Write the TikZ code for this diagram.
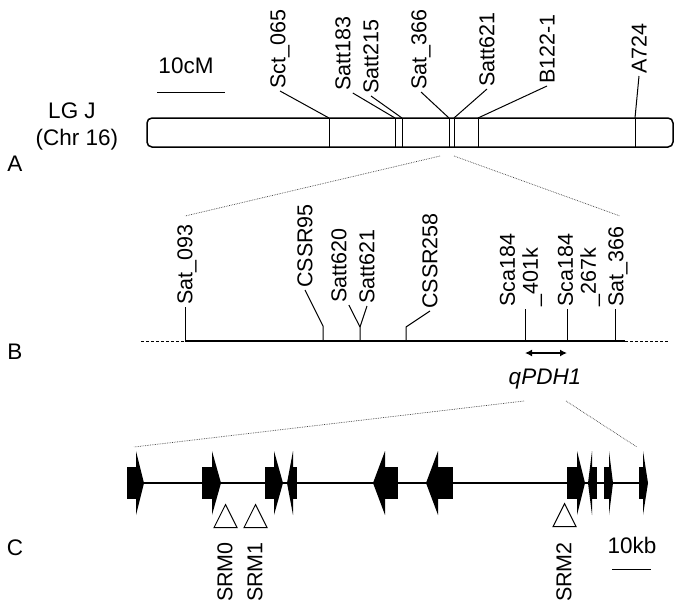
\documentclass[tikz,border=0pt]{standalone}
\usepackage{fontspec}
\setmainfont{Liberation Sans}
\usetikzlibrary{arrows.meta,positioning,shapes.geometric}
\tikzstyle{mk}=[rotate=90, anchor=west, inner sep=2pt, align=left, font=\fontsize{21.5}{23}\selectfont]
\tikzstyle{lbl}=[inner sep=0pt, font=\fontsize{22.5}{26}\selectfont]
\tikzstyle{l1}=[line width=1]
\tikzstyle{l2}=[line width=1.5]
\tikzstyle{zoomln}=[densely dotted, line width=0.7, color=black!75]
\tikzstyle{srm}=[isosceles triangle, shape border rotate=90, isosceles triangle stretches, draw, line width=1, inner sep=0pt, minimum width=23, minimum height=23]
% gene boxes: tail, base, tip (forward) / tip, base, tail (reverse)
\newcommand{\fgene}[3]{\fill (#1,467) rectangle (#2,499); \fill (#2,451) -- (#3,483) -- (#2,515) -- cycle;}
\newcommand{\rgene}[3]{\fill (#2,467) rectangle (#3,499); \fill (#2,451) -- (#1,483) -- (#2,515) -- cycle;}

\begin{document}
\begin{tikzpicture}[x=1pt, y=-1pt]
    \useasboundingbox (0,0) rectangle (682,614);

    % (A) linkage group
    \node (lg) [lbl] at (72,111) {LG J};
    \node (chr) [lbl] at (77,140) {(Chr 16)};
    \node (pa) [lbl] at (15,164) {A};
    \node (cm) [lbl] at (186,66) {10cM};
    \draw[l1] (157,92) -- (225,92);
    \draw[l2, rounded corners=5] (147,118) rectangle (673,147);
    \foreach \lx/\ly/\bx/\an/\txt [count=\i] in {280/91/329/west/Sct\_065, 343/93/395/south west/Satt183,
        371/96/402/west/Satt215, 421/92/449/west/Sat\_366, 487/89/454/west/Satt621,
        547/86/478/west/B122-1, 639/76/635/west/A724}{
        \coordinate (a\i) at (\bx,118);
        \draw[l1] (a\i) -- (\bx,147);
        \node (la\i) [mk] at (\lx,\ly) {\txt};
        \draw[l1] (la\i.\an) -- (a\i);
    }

    % zoom A -> B
    \coordinate (z1) at (440,156);
    \coordinate (z2) at (454,156);
    \coordinate (z3) at (185,216);
    \coordinate (z4) at (620,216);
    \draw[zoomln] (z1) -- (z3) (z2) -- (z4);

    % (B) fine map
    \node (pb) [lbl] at (15,352) {B};
    \coordinate (b0) at (141,341);
    \coordinate (b1) at (185,341);
    \coordinate (b2) at (323,341);
    \coordinate (b3) at (360,341);
    \coordinate (b4) at (406,341);
    \coordinate (b5) at (525,341);
    \coordinate (b6) at (567,341);
    \coordinate (b7) at (615,341);
    \coordinate (b8) at (668,341);
    \draw[l2] (b1) -- (b7) -- ++(10,0);
    \draw[l1, densely dashed] (b0) -- (b1);
    \draw[l1, densely dashed] (625,341) -- (b8);

    \node (lb1) [mk] at (187,307) {Sat\_093};
    \node (lb2) [mk] at (305,290) {CSSR95};
    \node (lb3) [mk] at (339,305) {Satt620};
    \node (lb4) [mk] at (367,306) {Satt621};
    \node (lb5) [mk] at (430,311) {CSSR258};
    \node (lb6) [mk] at (521,309) {Sca184\\\_401k};
    \node (lb7) [mk] at (579,309) {Sca184\\\_267k};
    \node (lb8) [mk] at (618,309) {Sat\_366};
    \draw[l1] (b1) -- (b1 |- lb1.west);
    \draw[l1] (b2) -- ++(0,-15) -- (lb2.west);
    \draw[l1] (b3) -- ++(0,-14) coordinate (j3) -- (lb3.south west);
    \draw[l1] (j3) -- (lb4.west);
    \draw[l1] (b4) -- ++(0,-14) -- (lb5.west);
    \draw[l1] (b5) -- (b5 |- lb6.west);
    \draw[l1] (b6) -- (b6 |- lb7.west);
    \draw[l1] (b7) -- (b7 |- lb8.west);

    \draw[l2, {Latex[length=7pt,width=7pt]}-{Latex[length=7pt,width=7pt]}] ([yshift=-12pt]b5) -- ([yshift=-12pt]b6);
    \node (q) [lbl] at (545,379) {\itshape qPDH1};

    % zoom B -> C
    \coordinate (z5) at (524,401);
    \coordinate (z6) at (566,401);
    \coordinate (z7) at (134,447);
    \coordinate (z8) at (637,447);
    \draw[zoomln] (z5) -- (z7) (z6) -- (z8);

    % (C) gene region
    \node (pc) [lbl] at (15,548) {C};
    \draw[l2] (136,483) -- (645,483);
    \fgene{127}{136}{144}
    \fgene{202}{212}{221}
    \fgene{265}{274}{283}
    \rgene{287}{293}{297}
    \rgene{373}{385}{398}
    \rgene{426}{438}{453}
    \fgene{567}{577}{585}
    \rgene{588}{592}{597}
    \fgene{604}{609}{613}
    \fgene{639}{643}{648}

    \node (t0) [srm] at (225.5,520.5) {};
    \node (t1) [srm] at (255.5,520.5) {};
    \node (t2) [srm] at (564.5,519.5) {};
    \node (s0) [mk, anchor=east] at (225,540) {SRM0};
    \node (s1) [mk, anchor=east] at (255,540) {SRM1};
    \node (s2) [mk, anchor=east] at (564,540) {SRM2};

    \node (kb) [lbl] at (632,545) {10kb};
    \draw[l1] (612,569) -- (651,569);
\end{tikzpicture}
\end{document}
